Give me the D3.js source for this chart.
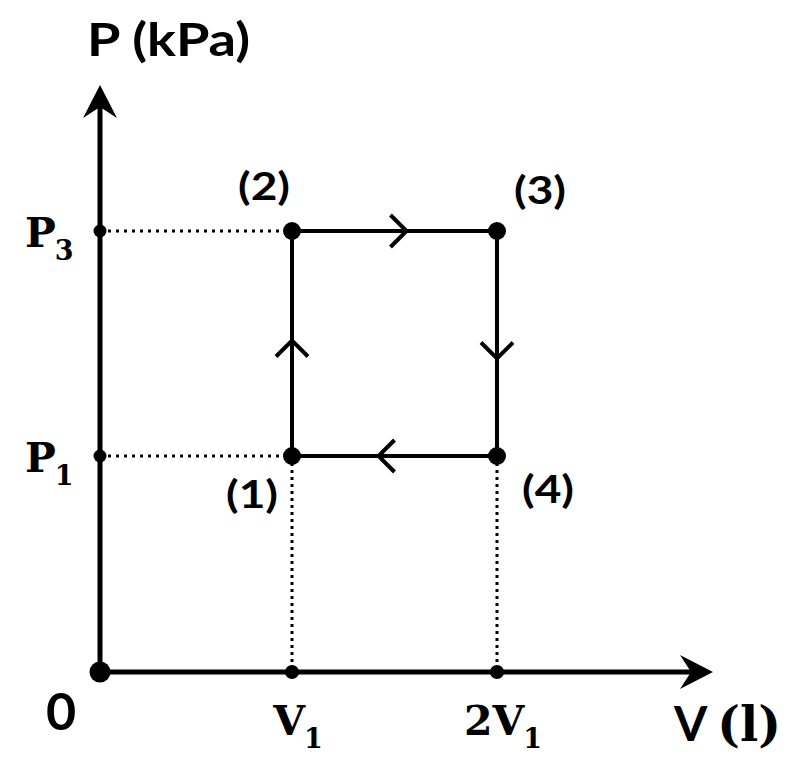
<!DOCTYPE html>
<html><head><meta charset="utf-8">
<script src="https://cdn.jsdelivr.net/npm/d3@7"></script>
<style>body{margin:0;background:#fff}</style>
</head><body>
<svg id="chart" width="800" height="772"></svg>
<script>
// ---- data ----
const stateLabels = ["(1)", "(2)", "(3)", "(4)"];
const volumes = [1, 1, 2, 2];        // in units of V1
const pressures = [1, 3, 3, 1];      // P1 .. P3
const cycleOrder = [0, 1, 2, 3, 0];  // 1 -> 2 -> 3 -> 4 -> 1
const xTickValues = [1, 2];
const xTickMain = ["V", "2V"];
const xTickSub = ["1", "1"];
const yTickValues = [1, 3];
const yTickMain = ["P", "P"];
const yTickSub = ["1", "3"];

// ---- layout ----
const svg = d3.select("#chart");
const x = d3.scaleLinear().domain([0, 1, 2]).range([100, 292, 497]);
const y = d3.scaleLinear().domain([0, 1, 3]).range([672, 456, 231]);
const xEnd = 713, yEnd = 85;
const labelOffsets = [[-40, 52], [-28, -31], [43, -27], [51, 47]];
const sans = "Lato, 'Open Sans', sans-serif";
const serif = "'DejaVu Serif', serif";

// dotted guide lines
const g = svg.append("g");
yTickValues.forEach(p => {
  const vLow = d3.min(volumes.filter((v, i) => pressures[i] === p));
  g.append("line")
    .attr("x1", x(0)).attr("x2", x(vLow))
    .attr("y1", y(p)).attr("y2", y(p))
    .attr("stroke", "#000").attr("stroke-width", 3)
    .attr("stroke-dasharray", "3,5");
});
xTickValues.forEach(v => {
  const pLow = d3.min(pressures.filter((p, i) => volumes[i] === v));
  g.append("line")
    .attr("x1", x(v)).attr("x2", x(v))
    .attr("y1", y(pLow)).attr("y2", y(0))
    .attr("stroke", "#000").attr("stroke-width", 3)
    .attr("stroke-dasharray", "3,4");
});

// axes
svg.append("line").attr("x1", x(0)).attr("x2", xEnd - 12).attr("y1", y(0)).attr("y2", y(0))
  .attr("stroke", "#000").attr("stroke-width", 5);
svg.append("line").attr("x1", x(0)).attr("x2", x(0)).attr("y1", y(0)).attr("y2", yEnd + 12)
  .attr("stroke", "#000").attr("stroke-width", 5);
svg.append("path")
  .attr("d", `M${xEnd},${y(0)} L${xEnd - 33},${y(0) - 17} L${xEnd - 22},${y(0)} L${xEnd - 33},${y(0) + 17} Z`)
  .attr("fill", "#000");
svg.append("path")
  .attr("d", `M${x(0)},${yEnd} L${x(0) - 17},${yEnd + 33} L${x(0)},${yEnd + 22} L${x(0) + 17},${yEnd + 33} Z`)
  .attr("fill", "#000");

// cycle
const line = d3.line().x(i => x(volumes[i])).y(i => y(pressures[i]));
svg.append("path").datum(cycleOrder).attr("d", line)
  .attr("fill", "none").attr("stroke", "#000").attr("stroke-width", 4)
  .attr("stroke-linejoin", "miter");

// direction chevrons
const chevronOffsets = [-4, 5, 8, 9];
for (let k = 0; k < 4; k++) {
  const a = cycleOrder[k], b = cycleOrder[k + 1];
  const x1 = x(volumes[a]), y1 = y(pressures[a]), x2 = x(volumes[b]), y2 = y(pressures[b]);
  const len = Math.hypot(x2 - x1, y2 - y1);
  const ux = (x2 - x1) / len, uy = (y2 - y1) / len;
  const mx = (x1 + x2) / 2 + ux * chevronOffsets[k], my = (y1 + y2) / 2 + uy * chevronOffsets[k];
  const tx = mx + ux * 7, ty = my + uy * 7;
  const bx = mx - ux * 9, by = my - uy * 9;
  const px = -uy * 16, py = ux * 16;
  svg.append("path")
    .attr("d", `M${bx + px},${by + py} L${tx},${ty} L${bx - px},${by - py}`)
    .attr("fill", "none").attr("stroke", "#000").attr("stroke-width", 4)
    .attr("stroke-linecap", "butt").attr("stroke-linejoin", "miter");
}

// dots
svg.append("circle").attr("cx", x(0)).attr("cy", y(0)).attr("r", 10.5);
svg.selectAll(".pt").data(d3.range(volumes.length)).join("circle")
  .attr("cx", i => x(volumes[i])).attr("cy", i => y(pressures[i])).attr("r", 9);
svg.selectAll(".yt").data(yTickValues).join("circle")
  .attr("cx", x(0)).attr("cy", d => y(d)).attr("r", 6.5);
svg.selectAll(".xt").data(xTickValues).join("circle")
  .attr("cx", d => x(d)).attr("cy", y(0)).attr("r", 7);

// state labels
svg.selectAll(".sl").data(d3.range(stateLabels.length)).join("text")
  .attr("x", i => x(volumes[i]) + labelOffsets[i][0])
  .attr("y", i => y(pressures[i]) + labelOffsets[i][1])
  .attr("text-anchor", "middle")
  .attr("font-family", sans).attr("font-weight", 700).attr("font-size", 38)
  .attr("textLength", 52).attr("lengthAdjust", "spacingAndGlyphs")
  .text(i => stateLabels[i]);

// y tick labels
yTickValues.forEach((v, i) => {
  const t = svg.append("text").attr("x", 25).attr("y", y(v) + 16)
    .attr("font-family", serif).attr("font-weight", 700).attr("font-size", 41);
  t.append("tspan").text(yTickMain[i]);
  t.append("tspan").attr("font-size", 27).attr("dy", 13).attr("dx", -1).text(yTickSub[i]);
});
// x tick labels
xTickValues.forEach((v, i) => {
  const t = svg.append("text").attr("x", x(v) + 6).attr("y", y(0) + 63)
    .attr("text-anchor", "middle")
    .attr("font-family", serif).attr("font-weight", 700).attr("font-size", 41);
  t.append("tspan").text(xTickMain[i]);
  t.append("tspan").attr("font-size", 27).attr("dy", 13).attr("dx", -1).text(xTickSub[i]);
});
svg.append("text").attr("x", 61).attr("y", 730).attr("text-anchor", "middle")
  .attr("font-family", sans).attr("font-weight", 700).attr("font-size", 52).text("0");

// axis titles
svg.append("text").attr("x", 87).attr("y", 56)
  .attr("font-family", sans).attr("font-weight", 700).attr("font-size", 46)
  .attr("textLength", 163).attr("lengthAdjust", "spacingAndGlyphs")
  .text("P (kPa)");
const vt = svg.append("text").attr("x", 674).attr("y", 741)
  .attr("font-family", sans).attr("font-weight", 700).attr("font-size", 48);
vt.append("tspan").text("V ");
vt.append("tspan").attr("font-family", serif).attr("font-size", 48).text("(l)");
</script>
</body></html>
